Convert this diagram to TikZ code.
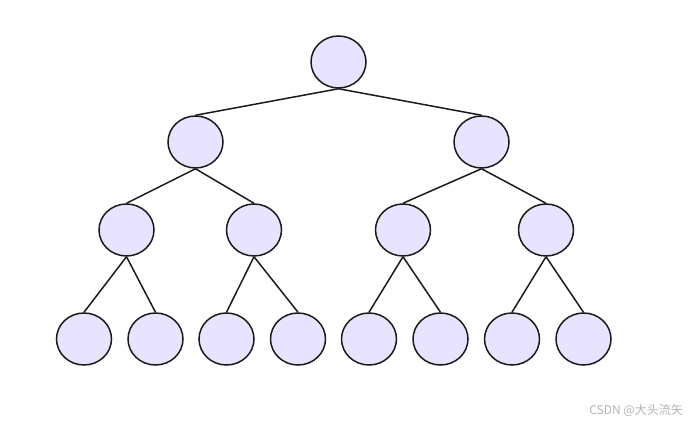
\documentclass[tikz,border=0pt]{standalone}
\usepackage{fontspec}
\newfontfamily\cjk{Noto Sans CJK SC}
\usetikzlibrary{shapes.geometric}
\definecolor{TreeFill}{HTML}{E8E3FF}
\definecolor{TreeLine}{HTML}{1A1A1A}
\definecolor{MarkGray}{HTML}{B4B4B4}

\begin{document}
\begin{tikzpicture}[x=1pt,y=1pt,
  v/.style={ellipse,draw=TreeLine,line width=1.5pt,fill=TreeFill,minimum width=55pt,minimum height=52pt,inner sep=0pt},
  e/.style={draw=TreeLine,line width=1.5pt}]
  \useasboundingbox (0,0) rectangle (690,425);
  % levels
  \node[v] (r) at (338.5,363) {};
  \node[v] (a) at (195.5,283) {};
  \node[v] (b) at (481.5,283) {};
  \node[v] (aa) at (126.5,195) {};
  \node[v] (ab) at (254,195) {};
  \node[v] (ba) at (403,195) {};
  \node[v] (bb) at (546,195) {};
  \node[v] (aaa) at (84,86) {};
  \node[v] (aab) at (155.5,86) {};
  \node[v] (aba) at (226.5,86) {};
  \node[v] (abb) at (298,86) {};
  \node[v] (baa) at (369,86) {};
  \node[v] (bab) at (440.5,86) {};
  \node[v] (bba) at (512,86) {};
  \node[v] (bbb) at (583.5,86) {};
  % edges
  \foreach \p/\c in {r/a,r/b,a/aa,a/ab,b/ba,b/bb,aa/aaa,aa/aab,ab/aba,ab/abb,ba/baa,ba/bab,bb/bba,bb/bbb}
    \draw[e] (\p.south) -- (\c.north);
  \node[anchor=east,text=MarkGray,font=\cjk\fontsize{12}{14}\selectfont,inner sep=0pt] (mark) at (683,15) {CSDN @大头流矢};
\end{tikzpicture}
\end{document}
